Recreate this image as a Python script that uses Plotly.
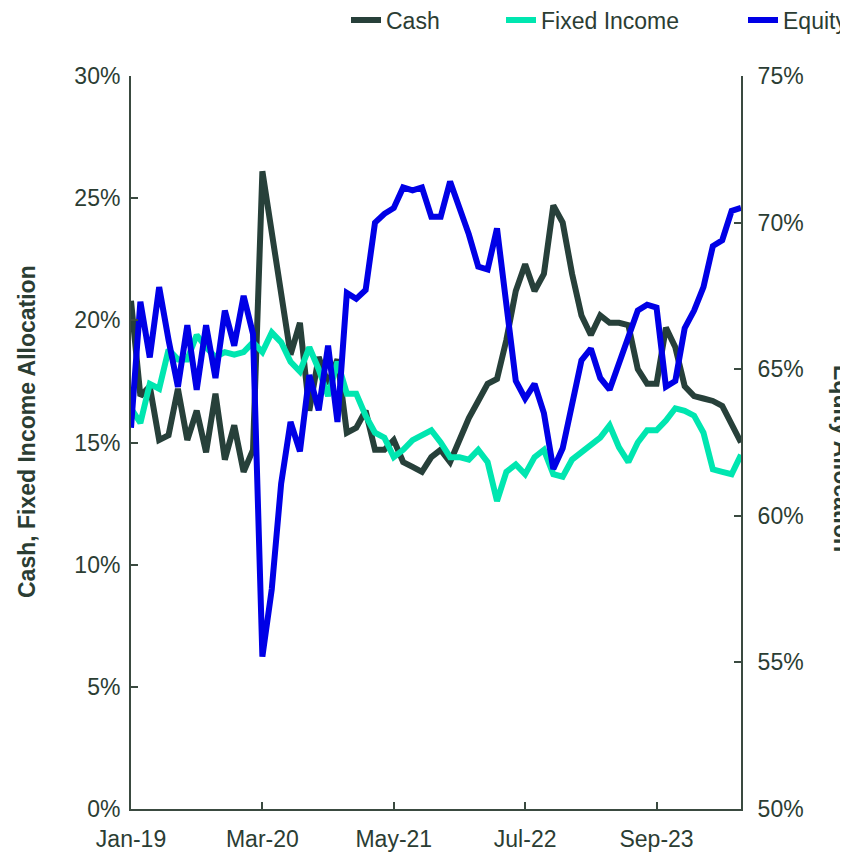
import pandas as pd
import plotly.graph_objects as go

months = [d.strftime("%b-%y") for d in pd.date_range("2019-01-01", periods=66, freq="MS")]
tick_labels = ["Jan-19", "Mar-20", "May-21", "Jul-22", "Sep-23"]

cash = [20.8, 16.9, 17.3, 15.1, 15.3, 17.2, 15.1, 16.3, 14.6, 17.0, 14.3, 15.7, 13.8, 14.7,
        26.1, 23.6, 21.1, 18.6, 19.9, 16.3, 18.5, 17.4, 18.4, 15.4, 15.6, 16.3, 14.7, 14.7,
        15.1, 14.2, 14.0, 13.8, 14.4, 14.7,
        14.2, 15.1, 16.0, 16.7, 17.4, 17.6, 19.2, 21.2, 22.3, 21.2, 21.9, 24.7, 24.0, 21.9,
        20.2, 19.4,
        20.2, 19.9, 19.9, 19.8, 18.0, 17.4, 17.4, 19.7, 18.9, 17.3, 16.9, 16.8, 16.7, 16.5,
        15.8, 15.0]
fixed_income = [16.4, 15.8, 17.4, 17.2, 18.8, 18.4, 18.4, 19.4, 18.9, 18.5, 18.7, 18.6, 18.7,
                19.1, 18.7, 19.5, 19.1,
                18.3, 17.9, 18.9, 18.0, 16.9, 18.3, 17.0, 17.0, 16.1, 15.4, 15.2, 14.4, 14.7,
                15.1, 15.3, 15.5, 15.0,
                14.4, 14.4, 14.3, 14.7, 14.2, 12.6, 13.8, 14.1, 13.7, 14.4, 14.7, 13.7, 13.6,
                14.3, 14.6, 14.9,
                15.2, 15.7, 14.8, 14.2, 15.0, 15.5, 15.5, 15.9, 16.4, 16.3, 16.1, 15.4, 13.9,
                13.8, 13.7, 14.5]
equity = [63.0, 67.3, 65.4, 67.8, 66.0, 64.4, 66.5, 64.3, 66.5, 64.7, 67.0, 65.8, 67.5, 66.2,
          55.2, 57.5, 61.1, 63.2, 62.2, 64.8, 63.6, 65.8, 63.2, 67.6, 67.4, 67.7, 70.0, 70.3,
          70.5, 71.2, 71.1, 71.2, 70.2, 70.2,
          71.4, 70.5, 69.6, 68.5, 68.4, 69.8, 67.2, 64.6, 64.0, 64.5, 63.5, 61.6, 62.3, 63.8,
          65.3, 65.7,
          64.7, 64.3, 65.2, 66.1, 67.0, 67.2, 67.1, 64.4, 64.6, 66.4, 67.0, 67.8, 69.2, 69.4,
          70.4, 70.5]

TXT = "#2B3D33"
AX = "#3A4A40"
FONT = "Liberation Sans, Arial, sans-serif"
FS = 23

# page body has an 8px margin: figure occupies screen x 8..848, y 8..852
OFF = 8
PL, PT = 131, 76      # plot left / top in screen pixels
PW, PH = 610, 733     # plot width / height


def px_x(sx):
    return (sx - PL) / PW


def px_y(sy):
    return (PT + PH - sy) / PH


fig = go.Figure()
fig.add_trace(go.Scatter(x=months, y=[v / 100 for v in cash], name="Cash", mode="lines",
                         line=dict(color="#27403A", width=6), legend="legend"))
fig.add_trace(go.Scatter(x=months, y=[v / 100 for v in fixed_income], name="Fixed Income",
                         mode="lines", line=dict(color="#00E6B0", width=6), legend="legend2"))
fig.add_trace(go.Scatter(x=months, y=[v / 100 for v in equity], name="Equity", mode="lines",
                         line=dict(color="#0000E6", width=6), yaxis="y2", legend="legend3"))

leg = dict(orientation="h", yanchor="middle", y=px_y(20), xanchor="left",
           font=dict(family=FONT, size=FS, color=TXT), bgcolor="rgba(0,0,0,0)",
           borderwidth=0, itemwidth=30)

fig.update_layout(
    width=848 - OFF, height=852 - OFF,
    margin=dict(l=PL - OFF, r=848 - PL - PW, t=PT - OFF, b=852 - PT - PH, autoexpand=False),
    plot_bgcolor="white", paper_bgcolor="white",
    font=dict(family=FONT, size=FS, color=TXT),
    showlegend=True,
    legend=dict(leg, x=px_x(346)),
    legend2=dict(leg, x=px_x(501)),
    legend3=dict(leg, x=px_x(743)),
    xaxis=dict(type="category", range=[0, 65], tickmode="array", tickvals=tick_labels,
               ticktext=tick_labels, showgrid=False, zeroline=False, showline=True,
               linecolor=AX, linewidth=2, ticks="inside", ticklen=7, tickcolor=AX,
               tickwidth=1.5, ticklabelstandoff=8, tickfont=dict(size=FS, color=TXT)),
    yaxis=dict(range=[0, 0.30], tickvals=[0, 0.05, 0.10, 0.15, 0.20, 0.25, 0.30],
               tickformat=".0%", showgrid=False, zeroline=False, showline=True,
               linecolor=AX, linewidth=2, ticks="inside", ticklen=7, tickcolor=AX,
               tickwidth=1.5, ticklabelstandoff=4, tickfont=dict(size=FS, color=TXT)),
    yaxis2=dict(range=[0.50, 0.75], tickvals=[0.50, 0.55, 0.60, 0.65, 0.70, 0.75],
                tickformat=".0%", overlaying="y", side="right", showgrid=False,
                zeroline=False, showline=True, linecolor=AX, linewidth=2, ticks="inside",
                ticklen=7, tickcolor=AX, tickwidth=1.5, ticklabelstandoff=10,
                tickfont=dict(size=FS, color=TXT)),
    annotations=[
        dict(text="<b>Cash, Fixed Income Allocation</b>", xref="paper", yref="paper",
             x=px_x(27), y=px_y(432), textangle=-90, showarrow=False,
             font=dict(family=FONT, size=FS, color=TXT), xanchor="center", yanchor="middle"),
        dict(text="<b>Equity Allocation</b>", xref="paper", yref="paper",
             x=px_x(842), y=px_y(458), textangle=90, showarrow=False,
             font=dict(family=FONT, size=FS, color=TXT), xanchor="center", yanchor="middle"),
    ],
)

fig.write_html("out.html")
